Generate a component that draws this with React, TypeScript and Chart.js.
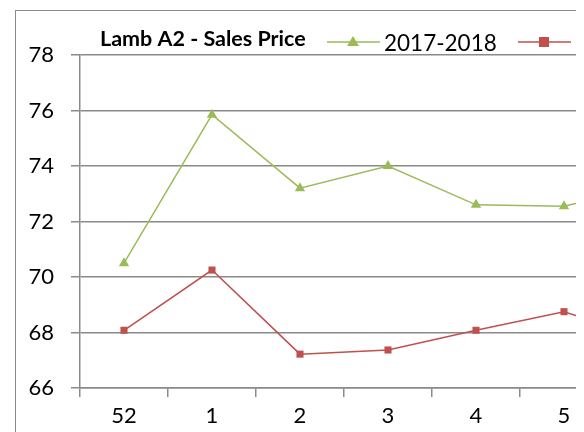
import React, { useEffect, useRef } from "react";
import { Chart, registerables } from "chart.js";

Chart.register(...registerables);

const TITLE = "Lamb A2 - Sales Price";
const CATEGORIES = ["52", "1", "2", "3", "4", "5", "6"];
const SERIES_A_LABEL = "2017-2018";
const SERIES_A = [70.5, 75.85, 73.2, 74.0, 72.6, 72.55, 73.3];
const SERIES_B_LABEL = "2018-2019";
const SERIES_B = [68.08, 70.25, 67.22, 67.37, 68.08, 68.75, 67.75];
const Y_MIN = 66;
const Y_MAX = 78;
const Y_STEP = 2;

const GREEN = "#9BBB59";
const RED = "#C0504D";
const GRID = "#8a8a8a";
const FONT = "Lato, 'Open Sans', sans-serif";

const legendPlugin = {
  id: "excelLegend",
  afterDraw(chart: any) {
    const ctx = chart.ctx;
    const left = chart.chartArea.left;
    ctx.save();
    // title
    ctx.fillStyle = "#000";
    ctx.font = `bold 21.5px ${FONT}`;
    ctx.textBaseline = "alphabetic";
    ctx.textAlign = "left";
    ctx.fillText(TITLE, left + 20, 35);
    const items = [
      { label: SERIES_A_LABEL, color: GREEN, style: "triangle", x: left + 247 },
      { label: SERIES_B_LABEL, color: RED, style: "rect", x: left + 438 },
    ];
    items.forEach((it) => {
      const y = 31;
      ctx.strokeStyle = it.color;
      ctx.lineWidth = 1.5;
      ctx.beginPath();
      ctx.moveTo(it.x, y);
      ctx.lineTo(it.x + 53, y);
      ctx.stroke();
      ctx.fillStyle = it.color;
      const cx = it.x + 26;
      if (it.style === "triangle") {
        ctx.beginPath();
        ctx.moveTo(cx, y - 6);
        ctx.lineTo(cx + 6, y + 4);
        ctx.lineTo(cx - 6, y + 4);
        ctx.closePath();
        ctx.fill();
      } else {
        ctx.fillRect(cx - 5, y - 5, 10, 10);
      }
      ctx.fillStyle = "#000";
      ctx.font = `22.5px ${FONT}`;
      ctx.fillText(it.label, it.x + 57, 40);
    });
    ctx.restore();
  },
};

export default function App() {
  const ref = useRef<HTMLCanvasElement>(null);
  useEffect(() => {
    document.body.style.overflow = "hidden";
    const chart = new Chart(ref.current!, {
      type: "line",
      data: {
        labels: CATEGORIES,
        datasets: [
          {
            label: SERIES_A_LABEL,
            data: SERIES_A,
            borderColor: GREEN,
            backgroundColor: GREEN,
            borderWidth: 1.5,
            pointStyle: "triangle",
            pointRadius: 6,
            pointBorderWidth: 0,
            tension: 0,
          },
          {
            label: SERIES_B_LABEL,
            data: SERIES_B,
            borderColor: RED,
            backgroundColor: RED,
            borderWidth: 1.5,
            pointStyle: "rect",
            pointRadius: 5,
            pointBorderWidth: 0,
            tension: 0,
          },
        ],
      },
      options: {
        responsive: false,
        animation: false,
        layout: { padding: { top: 44, right: 20, left: 0, bottom: 0 } },
        plugins: {
          legend: { display: false },
          title: { display: false },
          tooltip: { enabled: false },
        },
        scales: {
          x: {
            offset: true,
            grid: {
              offset: true,
              drawOnChartArea: false,
              drawTicks: true,
              tickLength: 9,
              color: GRID,
              lineWidth: 1.5,
            },
            border: { display: true, color: GRID, width: 1.5 },
            ticks: {
              color: "#000",
              font: { family: FONT, size: 22 },
              padding: 6,
              maxRotation: 0,
              autoSkip: false,
            },
            afterFit: (s: any) => {
              s.height = 83;
            },
          },
          y: {
            min: Y_MIN,
            max: Y_MAX,
            ticks: {
              stepSize: Y_STEP,
              color: "#000",
              font: { family: FONT, size: 22 },
              padding: 17,
            },
            grid: {
              color: GRID,
              lineWidth: 1.5,
              tickLength: 9,
            },
            border: { display: true, color: GRID, width: 1.5 },
            afterFit: (s: any) => {
              s.width = 64;
            },
          },
        },
      },
      plugins: [legendPlugin],
    });
    return () => chart.destroy();
  }, []);
  return (
    <div
      style={{
        position: "absolute",
        left: 15,
        top: 10,
        borderLeft: `1.5px solid ${GRID}`,
        borderTop: `1.5px solid ${GRID}`,
        width: 560,
        height: 460,
        overflow: "hidden",
        background: "#fff",
      }}
    >
      <canvas ref={ref} width={700} height={460} style={{ display: "block" }} />
    </div>
  );
}
